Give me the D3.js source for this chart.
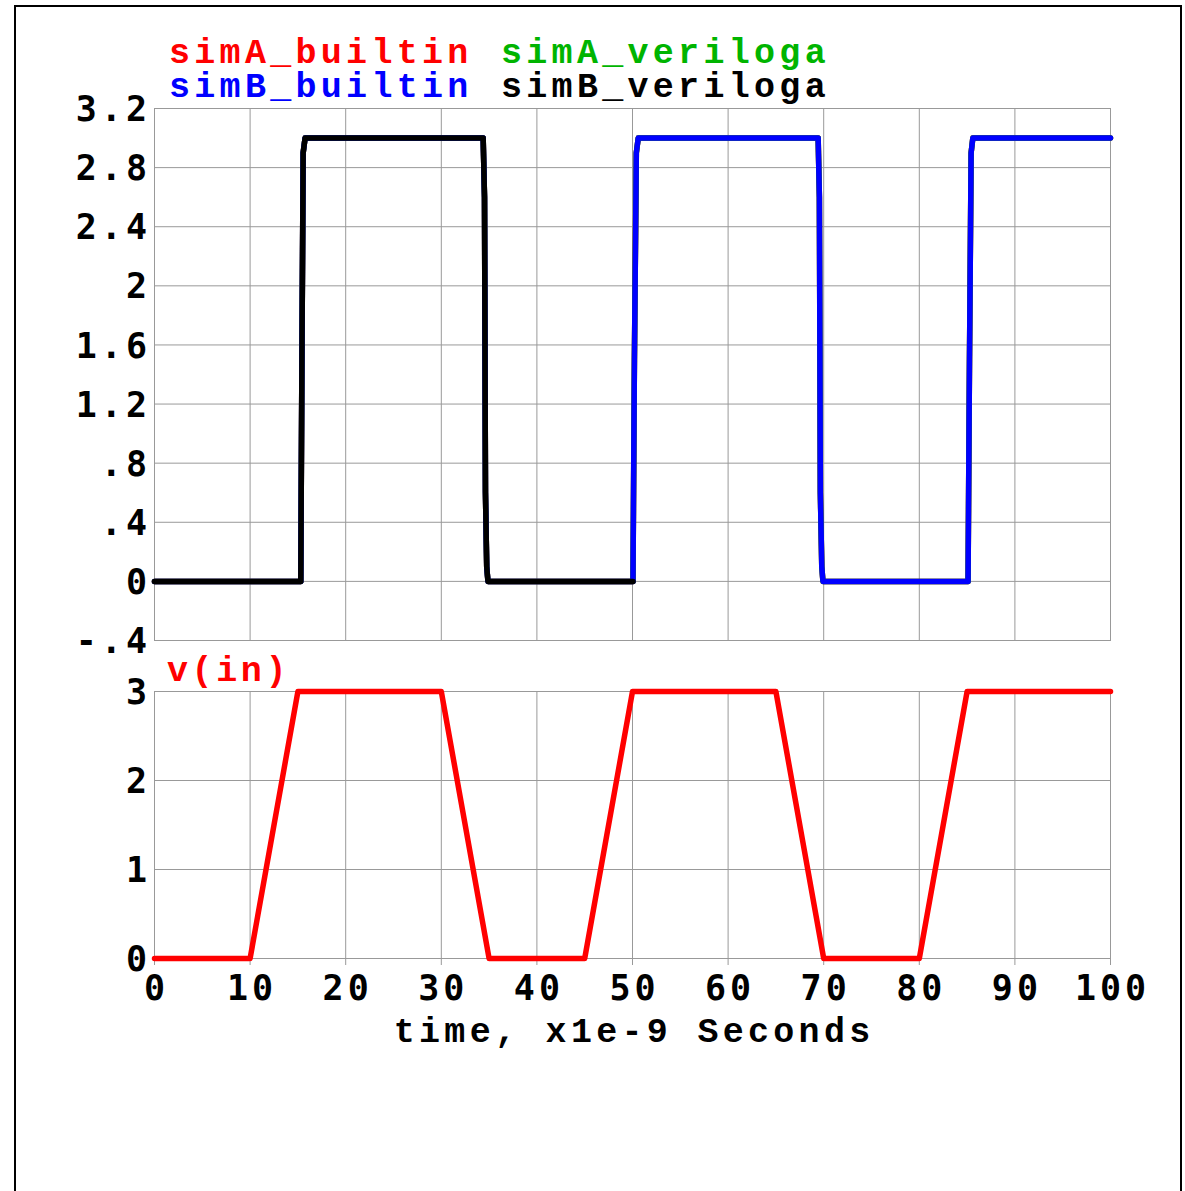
<!DOCTYPE html>
<html><head><meta charset="utf-8">
<script src="https://cdn.jsdelivr.net/npm/d3@7"></script>
<style>html,body{margin:0;padding:0;background:#fff;}svg{display:block;}</style>
</head><body>
<script>
// ---- data ----
const legendLabels = ["simA_builtin", "simA_veriloga", "simB_builtin", "simB_veriloga"];
const legendColors = ["#ff0000", "#00b400", "#0000ff", "#000000"];

// output waveforms (top panel), time in ns
const outTime = [0, 15.3, 15.42, 15.55, 15.75, 34.38, 34.52, 34.62, 34.75, 34.88, 50.05, 50.2, 50.4, 50.6, 69.42, 69.55, 69.65, 69.8, 69.92, 85.1, 85.25, 85.42, 85.6, 100];
const simA_builtin  = [0, 0, 1.5, 2.9, 3.0, 3.0, 2.6, 0.6, 0.1, 0, 0, 1.5, 2.9, 3.0, 3.0, 2.6, 0.6, 0.1, 0, 0, 1.5, 2.9, 3.0, 3.0];
const simA_veriloga = [0, 0, 1.5, 2.9, 3.0, 3.0, 2.6, 0.6, 0.1, 0, 0, 1.5, 2.9, 3.0, 3.0, 2.6, 0.6, 0.1, 0, 0, 1.5, 2.9, 3.0, 3.0];
const simB_builtin  = [0, 0, 1.5, 2.9, 3.0, 3.0, 2.6, 0.6, 0.1, 0, 0, 1.5, 2.9, 3.0, 3.0, 2.6, 0.6, 0.1, 0, 0, 1.5, 2.9, 3.0, 3.0];
const simBvTime = [0, 15.3, 15.42, 15.55, 15.75, 34.38, 34.52, 34.62, 34.75, 34.88, 50.05];
const simB_veriloga = [0, 0, 1.5, 2.9, 3.0, 3.0, 2.6, 0.6, 0.1, 0, 0];

// input waveform (bottom panel)
const inTime = [0, 10, 15, 30, 35, 45, 50, 65, 70, 80, 85, 100];
const vin    = [0, 0, 3, 3, 0, 0, 3, 3, 0, 0, 3, 3];

const xTicks = [0, 10, 20, 30, 40, 50, 60, 70, 80, 90, 100];
const topTicks = [3.2, 2.8, 2.4, 2, 1.6, 1.2, 0.8, 0.4, 0, -0.4];
const topTickLabels = ["3.2", "2.8", "2.4", "2", "1.6", "1.2", ".8", ".4", "0", "-.4"];
const botTicks = [3, 2, 1, 0];
const botTickLabels = ["3", "2", "1", "0"];

// ---- layout ----
const W = 1185, H = 1191;
const svg = d3.select("body").append("svg").attr("width", W).attr("height", H);
svg.append("rect").attr("x", 15).attr("y", 6).attr("width", 1166).attr("height", 1200)
  .attr("fill", "#fff").attr("stroke", "#000").attr("stroke-width", 2);

const x = d3.scaleLinear().domain([0, 100]).range([154.5, 1110.5]);
const yTop = d3.scaleLinear().domain([-0.4, 3.2]).range([640.5, 108.5]);
const yBot = d3.scaleLinear().domain([0, 3]).range([958.5, 691.5]);

const gridColor = "#999";
const monoSans = "'DejaVu Sans Mono', monospace";
const courier = "'Liberation Mono', 'Courier New', monospace";
const LS = 4;
const CLS = 4.3;

function panel(y, ticks, labels) {
  const g = svg.append("g");
  const [y0, y1] = y.range();
  g.selectAll("line.vx").data(xTicks).join("line")
    .attr("x1", d => x(d)).attr("x2", d => x(d)).attr("y1", y1).attr("y2", y0)
    .attr("stroke", gridColor).attr("stroke-width", 1);
  g.selectAll("line.hy").data(ticks).join("line")
    .attr("x1", x.range()[0]).attr("x2", x.range()[1]).attr("y1", d => y(d)).attr("y2", d => y(d))
    .attr("stroke", gridColor).attr("stroke-width", 1);
  g.append("rect").attr("x", x.range()[0]).attr("y", y1).attr("width", x.range()[1] - x.range()[0])
    .attr("height", y0 - y1).attr("fill", "none").attr("stroke", gridColor).attr("stroke-width", 1);
  g.selectAll("text.yl").data(ticks).join("text")
    .attr("x", 147 + LS).attr("y", d => y(d)).attr("dy", "0.36em")
    .attr("text-anchor", "end").attr("font-family", monoSans).attr("font-weight", "bold")
    .attr("font-size", 35).attr("letter-spacing", LS).attr("fill", "#000")
    .text((d, i) => labels[i]);
  return g;
}

panel(yTop, topTicks, topTickLabels);
const gb = panel(yBot, botTicks, botTickLabels);

gb.selectAll("line.xt").data(xTicks).join("line")
  .attr("x1", d => x(d)).attr("x2", d => x(d)).attr("y1", 958.5).attr("y2", 965)
  .attr("stroke", gridColor).attr("stroke-width", 1);
gb.selectAll("text.xl").data(xTicks).join("text")
  .attr("x", d => x(d) + LS / 2).attr("y", 1000)
  .attr("text-anchor", "middle").attr("font-family", monoSans).attr("font-weight", "bold")
  .attr("font-size", 35).attr("letter-spacing", LS).attr("fill", "#000")
  .text(d => d);

svg.append("text").attr("x", 632 + CLS / 2).attr("y", 1042).attr("text-anchor", "middle")
  .attr("font-family", courier).attr("font-weight", "bold").attr("font-size", 35)
  .attr("letter-spacing", CLS).attr("fill", "#000").text("time, x1e-9 Seconds");

// legend
const legPos = [[169, 63], [501, 63], [169, 97], [501, 97]];
legendLabels.forEach((l, i) => {
  svg.append("text").attr("x", legPos[i][0]).attr("y", legPos[i][1])
    .attr("font-family", courier).attr("font-weight", "bold").attr("font-size", 35)
    .attr("letter-spacing", CLS).attr("fill", legendColors[i]).text(l);
});
svg.append("text").attr("x", 167).attr("y", 681)
  .attr("font-family", courier).attr("font-weight", "bold").attr("font-size", 35)
  .attr("letter-spacing", 3.6).attr("fill", "#ff0000").text("v(in)");

function drawLine(ts, vs, y, color) {
  const pts = ts.map((t, i) => [t, vs[i]]);
  svg.append("path").datum(pts)
    .attr("d", d3.line().x(d => x(d[0])).y(d => y(d[1])))
    .attr("fill", "none").attr("stroke", color).attr("stroke-width", 5.5)
    .attr("stroke-linejoin", "round").attr("stroke-linecap", "round");
}
drawLine(outTime, simA_builtin, yTop, legendColors[0]);
drawLine(outTime, simA_veriloga, yTop, legendColors[1]);
drawLine(outTime, simB_builtin, yTop, legendColors[2]);
drawLine(simBvTime, simB_veriloga, yTop, legendColors[3]);
drawLine(inTime, vin, yBot, "#ff0000");
</script>
</body></html>
